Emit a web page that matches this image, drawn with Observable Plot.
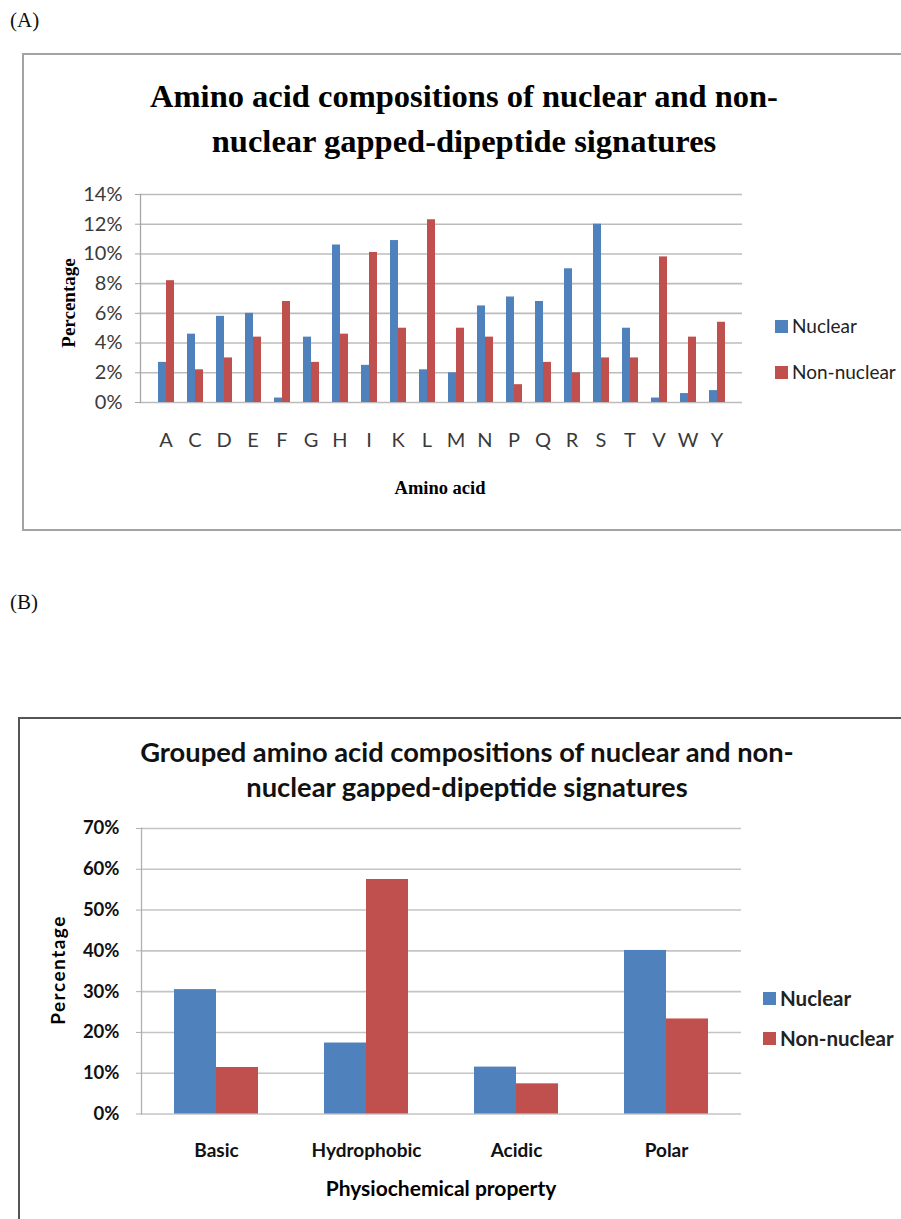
<!DOCTYPE html>
<html>
<head>
<meta charset="utf-8">
<script src="https://cdn.jsdelivr.net/npm/d3@7"></script>
<script src="https://cdn.jsdelivr.net/npm/@observablehq/plot@0.6"></script>
<style>
  html, body { margin: 0; padding: 0; background: #fff; }
  #root { position: relative; width: 901px; height: 1219px; overflow: hidden; }
  .abs { position: absolute; white-space: nowrap; }
  .serif { font-family: "Liberation Serif", "Times New Roman", serif; }
  .sans { font-family: Lato, "Open Sans", sans-serif; }
  .box { position: absolute; box-sizing: border-box; }
  .sw { position: absolute; width: 13px; height: 13px; }
</style>
</head>
<body>
<div id="root">
  <div class="abs serif" style="left:10px; top:8px; font-size:21px; color:#111;">(A)</div>
  <div class="box" style="left:22px; top:53px; width:900px; height:478px; border:2px solid #a3a3a3;"></div>
  <div class="abs serif" style="left:0; width:928px; top:74px; text-align:center; font-size:32.5px; line-height:45px; font-weight:bold; color:#000;">Amino acid compositions of nuclear and non-<br>nuclear gapped-dipeptide signatures</div>
  <div class="abs serif" style="left:69px; top:303px; transform:translate(-50%,-50%) rotate(-90deg); font-size:19px; font-weight:bold;">Percentage</div>
  <div class="abs serif" style="left:0; width:880px; top:478px; text-align:center; font-size:18.5px; font-weight:bold;">Amino acid</div>
  <div id="legA"></div>
  <div id="gridA" class="abs" style="left:0; top:170px;"></div>
  <div id="chartA" class="abs" style="left:0; top:170px;"></div>

  <div class="abs serif" style="left:10px; top:590px; font-size:21px; color:#111;">(B)</div>
  <div class="box" style="left:18px; top:717px; width:900px; height:520px; border:2.5px solid #555;"></div>
  <div class="abs sans" style="left:0; width:934px; top:734px; text-align:center; font-size:27.3px; line-height:35px; font-weight:bold; color:#111;">Grouped amino acid compositions of nuclear and non-<br>nuclear gapped-dipeptide signatures</div>
  <div class="abs sans" style="left:57px; top:970px; transform:translate(-50%,-50%) rotate(-90deg); font-size:19px; font-weight:bold; letter-spacing:1.5px;">Percentage</div>
  <div class="abs sans" style="left:0; width:882px; top:1175px; text-align:center; font-size:21px; font-weight:bold;">Physiochemical property</div>
  <div id="legB"></div>
  <div id="gridB" class="abs" style="left:0; top:800px;"></div>
  <div id="chartB" class="abs" style="left:0; top:800px;"></div>
</div>
<script>
// ---- Data ----
const series = ["Nuclear", "Non-nuclear"];
const colors = ["#4F81BD", "#C0504D"];

// Panel A: amino acids
const aminoAcids = ["A","C","D","E","F","G","H","I","K","L","M","N","P","Q","R","S","T","V","W","Y"];
const nuclearA    = [2.7, 4.6, 5.8, 6.0, 0.3, 4.4, 10.6, 2.5, 10.9, 2.2, 2.0, 6.5, 7.1, 6.8, 9.0, 12.0, 5.0, 0.3, 0.6, 0.8];
const nonNuclearA = [8.2, 2.2, 3.0, 4.4, 6.8, 2.7, 4.6, 10.1, 5.0, 12.3, 5.0, 4.4, 1.2, 2.7, 2.0, 3.0, 3.0, 9.8, 4.4, 5.4];
const yTicksA = [0, 2, 4, 6, 8, 10, 12, 14];

// Panel B: physicochemical groups
const groups = ["Basic", "Hydrophobic", "Acidic", "Polar"];
const nuclearB    = [30.5, 17.4, 11.5, 40.1];
const nonNuclearB = [11.4, 57.5, 7.4, 23.3];
const yTicksB = [0, 10, 20, 30, 40, 50, 60, 70];

const rowsA = aminoAcids.flatMap((c, i) => [
  {cat: c, series: series[0], value: nuclearA[i]},
  {cat: c, series: series[1], value: nonNuclearA[i]}
]);
const rowsB = groups.flatMap((c, i) => [
  {cat: c, series: series[0], value: nuclearB[i]},
  {cat: c, series: series[1], value: nonNuclearB[i]}
]);

const pct = d => d + "%";
const baseStyle = {fontFamily: "Lato, sans-serif", background: "transparent", overflow: "visible"};

// Background layer: grid, y axis, axis line (full-width)
function gridLayer(cfg) {
  return Plot.plot({
    width: 901, height: cfg.height,
    marginLeft: cfg.ml, marginRight: cfg.mr, marginTop: cfg.mt, marginBottom: cfg.mb,
    style: baseStyle,
    x: {type: "band", domain: cfg.cats, axis: null},
    y: {domain: cfg.domain, label: null},
    marks: [
      Plot.ruleY(cfg.ticks, {stroke: cfg.grid, strokeWidth: 1.6}),
      Plot.axisY({ticks: cfg.ticks, tickFormat: pct, tickSize: 5, tickPadding: cfg.tp, fontSize: cfg.yfs,
                  fontWeight: cfg.bold ? "bold" : "normal", stroke: cfg.axis, fill: cfg.text, label: null}),
      Plot.frame({anchor: "left", stroke: cfg.axis, strokeWidth: 1.3})
    ]
  });
}
// Foreground layer: grouped bars via fx facets
function barLayer(cfg) {
  return Plot.plot({
    width: 901, height: cfg.height,
    marginLeft: cfg.ml, marginRight: cfg.mr, marginTop: cfg.mt, marginBottom: cfg.mb,
    style: baseStyle,
    fx: {domain: cfg.cats, paddingInner: cfg.pi, paddingOuter: cfg.po, label: null},
    x: {domain: series, padding: 0, axis: null},
    y: {domain: cfg.domain, axis: null},
    color: {domain: series, range: colors},
    marks: [
      Plot.barY(cfg.rows, {fx: "cat", x: "series", y: "value", fill: "series"}),
      Plot.axisFx({anchor: "bottom", tickSize: 0, tickPadding: cfg.fxp, fontSize: cfg.xfs,
                   fontWeight: cfg.bold ? "bold" : "normal", fill: cfg.text, label: null})
    ]
  });
}

const cfgA = {height: 300, ml: 140, mr: 159, mt: 24, mb: 68, cats: aminoAcids, rows: rowsA,
  domain: [0, 14], ticks: yTicksA, tp: 13, fxp: 30, pi: 0.42, po: 0.27, yfs: 20, xfs: 20,
  grid: "#bcbcbc", axis: "#a6a6a6", text: "#3a3a3a", bold: false};
const cfgB = {height: 380, ml: 141, mr: 160, mt: 28, mb: 66.5, cats: groups, rows: rowsB,
  domain: [0, 70], ticks: yTicksB, tp: 17, fxp: 29, pi: 0.44, po: 0.22, yfs: 18.5, xfs: 19,
  grid: "#c4c4c4", axis: "#b0b0b0", text: "#111", bold: true};

document.getElementById("gridA").appendChild(gridLayer(cfgA));
document.getElementById("chartA").appendChild(barLayer(cfgA));
document.getElementById("gridB").appendChild(gridLayer(cfgB));
document.getElementById("chartB").appendChild(barLayer(cfgB));

// Legends (HTML)
function legend(id, x, ys, bold, fs) {
  const el = document.getElementById(id);
  series.forEach((s, i) => {
    const sw = document.createElement("div");
    sw.className = "sw";
    sw.style.left = x + "px";
    sw.style.top = (ys[i] - 6) + "px";
    sw.style.background = colors[i];
    el.appendChild(sw);
    const t = document.createElement("div");
    t.className = "abs sans";
    t.style.left = (x + 17) + "px";
    t.style.top = (ys[i] - 13) + "px";
    t.style.fontSize = fs + "px";
    t.style.lineHeight = "26px";
    t.style.color = "#222";
    if (bold) t.style.fontWeight = "bold";
    t.textContent = s;
    el.appendChild(t);
  });
}
legend("legA", 775, [326, 372], false, 19);
legend("legB", 763, [998, 1038], true, 20.5);
</script>
</body>
</html>
